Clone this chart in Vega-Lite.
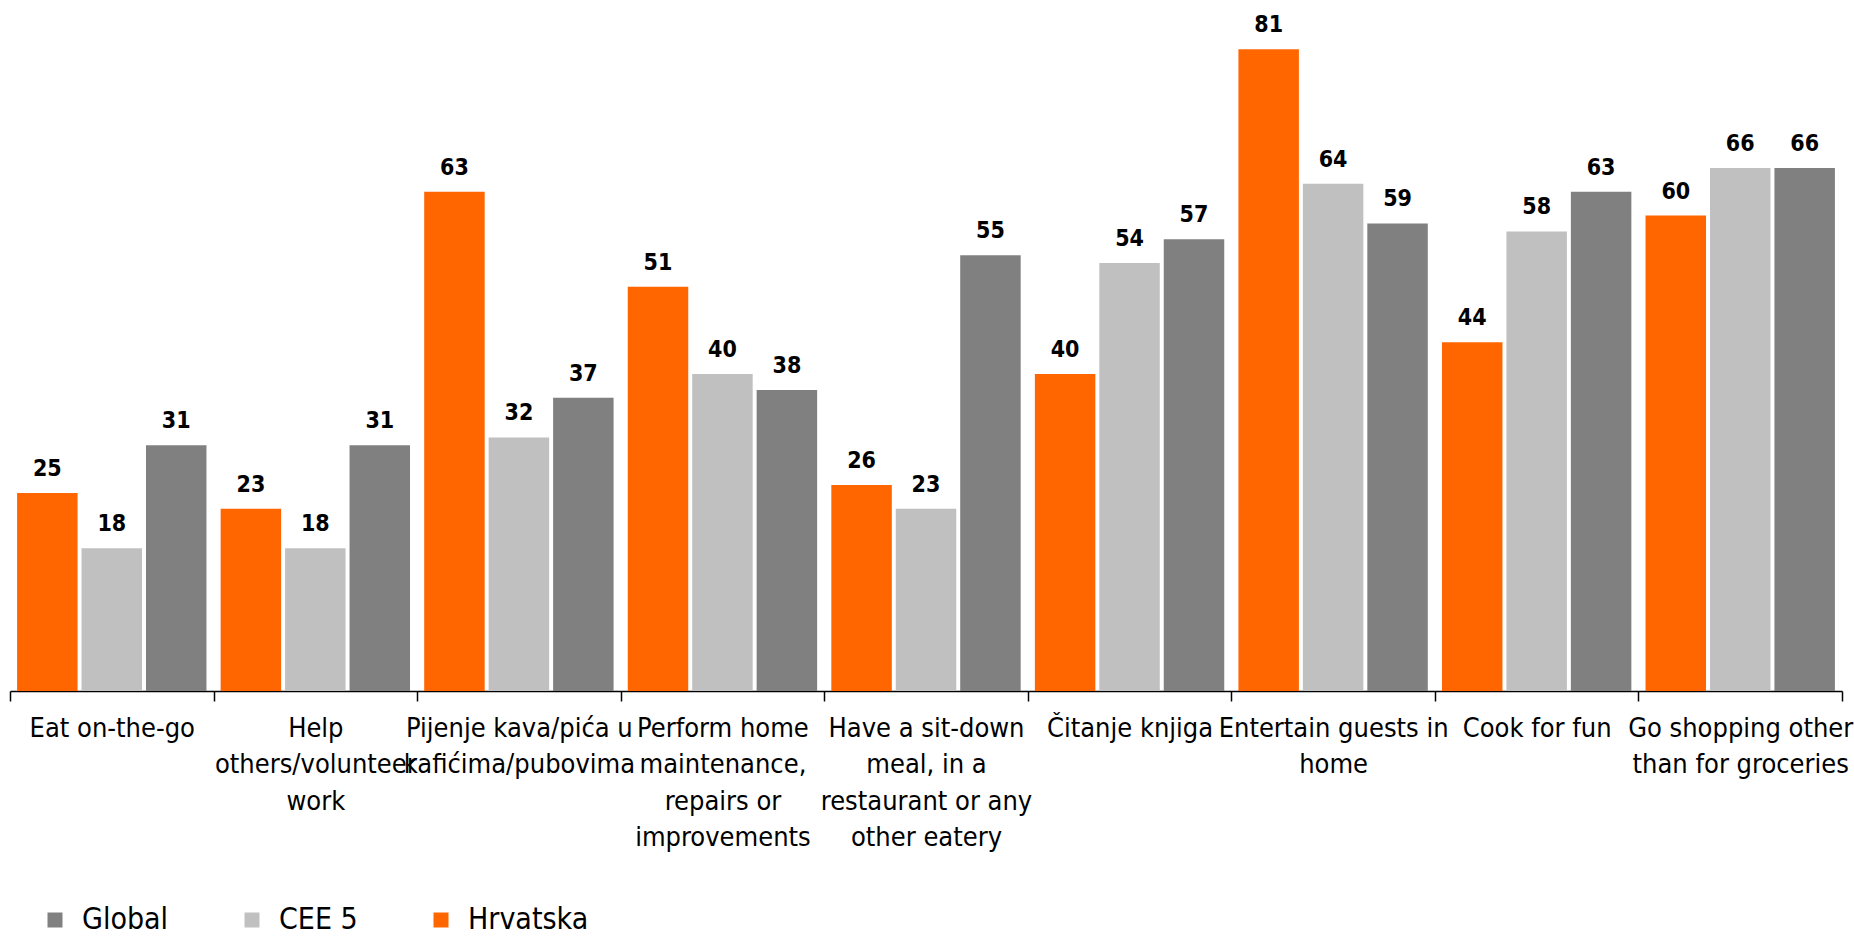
{
  "$schema": "https://vega.github.io/schema/vega-lite/v6.json",
  "width": 1832,
  "height": 691,
  "autosize": {"type": "none"},
  "padding": {"left": 10, "top": 0, "right": 12, "bottom": 250},
  "background": "white",
  "config": {
    "view": {"stroke": null},
    "font": "DejaVu Sans Condensed, Liberation Sans, sans-serif"
  },
  "data": {
    "values": [
      {"activity": "Eat on-the-go", "series": "Hrvatska", "value": 25},
      {"activity": "Eat on-the-go", "series": "CEE 5", "value": 18},
      {"activity": "Eat on-the-go", "series": "Global", "value": 31},
      {"activity": "Help others/volunteer work", "series": "Hrvatska", "value": 23},
      {"activity": "Help others/volunteer work", "series": "CEE 5", "value": 18},
      {"activity": "Help others/volunteer work", "series": "Global", "value": 31},
      {"activity": "Pijenje kava/pića u kafićima/pubovima", "series": "Hrvatska", "value": 63},
      {"activity": "Pijenje kava/pića u kafićima/pubovima", "series": "CEE 5", "value": 32},
      {"activity": "Pijenje kava/pića u kafićima/pubovima", "series": "Global", "value": 37},
      {"activity": "Perform home maintenance, repairs or improvements", "series": "Hrvatska", "value": 51},
      {"activity": "Perform home maintenance, repairs or improvements", "series": "CEE 5", "value": 40},
      {"activity": "Perform home maintenance, repairs or improvements", "series": "Global", "value": 38},
      {"activity": "Have a sit-down meal, in a restaurant or any other eatery", "series": "Hrvatska", "value": 26},
      {"activity": "Have a sit-down meal, in a restaurant or any other eatery", "series": "CEE 5", "value": 23},
      {"activity": "Have a sit-down meal, in a restaurant or any other eatery", "series": "Global", "value": 55},
      {"activity": "Čitanje knjiga", "series": "Hrvatska", "value": 40},
      {"activity": "Čitanje knjiga", "series": "CEE 5", "value": 54},
      {"activity": "Čitanje knjiga", "series": "Global", "value": 57},
      {"activity": "Entertain guests in home", "series": "Hrvatska", "value": 81},
      {"activity": "Entertain guests in home", "series": "CEE 5", "value": 64},
      {"activity": "Entertain guests in home", "series": "Global", "value": 59},
      {"activity": "Cook for fun", "series": "Hrvatska", "value": 44},
      {"activity": "Cook for fun", "series": "CEE 5", "value": 58},
      {"activity": "Cook for fun", "series": "Global", "value": 63},
      {"activity": "Go shopping other than for groceries", "series": "Hrvatska", "value": 60},
      {"activity": "Go shopping other than for groceries", "series": "CEE 5", "value": 66},
      {"activity": "Go shopping other than for groceries", "series": "Global", "value": 66}
    ]
  },
  "encoding": {
    "x": {
      "field": "activity",
      "type": "nominal",
      "sort": null,
      "scale": {"paddingInner": 0, "paddingOuter": 0},
      "axis": {
        "title": null,
        "labelAngle": 0,
        "labelFontSize": 27,
        "labelColor": "#000000",
        "labelLimit": 0,
        "labelPadding": 14,
        "labelLineHeight": 36.5,
        "labelAlign": "center",
        "labelBaseline": "top",
        "tickBand": "extent",
        "tickSize": 10,
        "tickColor": "#000000",
        "tickWidth": 1.5,
        "domainColor": "#000000",
        "domainWidth": 1.5,
        "labelExpr": "datum.value == 'Help others/volunteer work' ? ['Help', 'others/volunteer', 'work'] : datum.value == 'Pijenje kava/pića u kafićima/pubovima' ? ['Pijenje kava/pića u', 'kafićima/pubovima'] : datum.value == 'Perform home maintenance, repairs or improvements' ? ['Perform home', 'maintenance,', 'repairs or', 'improvements'] : datum.value == 'Have a sit-down meal, in a restaurant or any other eatery' ? ['Have a sit-down', 'meal, in a', 'restaurant or any', 'other eatery'] : datum.value == 'Entertain guests in home' ? ['Entertain guests in', 'home'] : datum.value == 'Go shopping other than for groceries' ? ['Go shopping other', 'than for groceries'] : datum.value"
      }
    },
    "xOffset": {
      "field": "series",
      "type": "nominal",
      "sort": ["Hrvatska", "CEE 5", "Global"],
      "scale": {"paddingInner": 0.0615, "paddingOuter": 0.11}
    },
    "y": {
      "field": "value",
      "type": "quantitative",
      "scale": {"domain": [0, 87.2], "nice": false},
      "axis": null
    }
  },
  "layer": [
    {
      "mark": {"type": "bar"},
      "encoding": {
        "color": {
          "field": "series",
          "type": "nominal",
          "scale": {
            "domain": ["Global", "CEE 5", "Hrvatska"],
            "range": ["#808080", "#C0C0C0", "#FF6600"]
          },
          "legend": {
            "title": null,
            "orient": "none",
            "direction": "horizontal",
            "legendX": 30,
            "legendY": 905,
            "symbolType": "square",
            "symbolSize": 225,
            "symbolStrokeWidth": 0,
            "labelFontSize": 30,
            "labelColor": "#000000",
            "labelOffset": 12,
            "columnPadding": 68,
            "padding": 0
          }
        }
      }
    },
    {
      "mark": {
        "type": "text",
        "baseline": "alphabetic",
        "dy": -17,
        "fontSize": 23,
        "fontWeight": "bold",
        "color": "#000000"
      },
      "encoding": {
        "text": {"field": "value", "type": "quantitative"}
      }
    }
  ]
}
